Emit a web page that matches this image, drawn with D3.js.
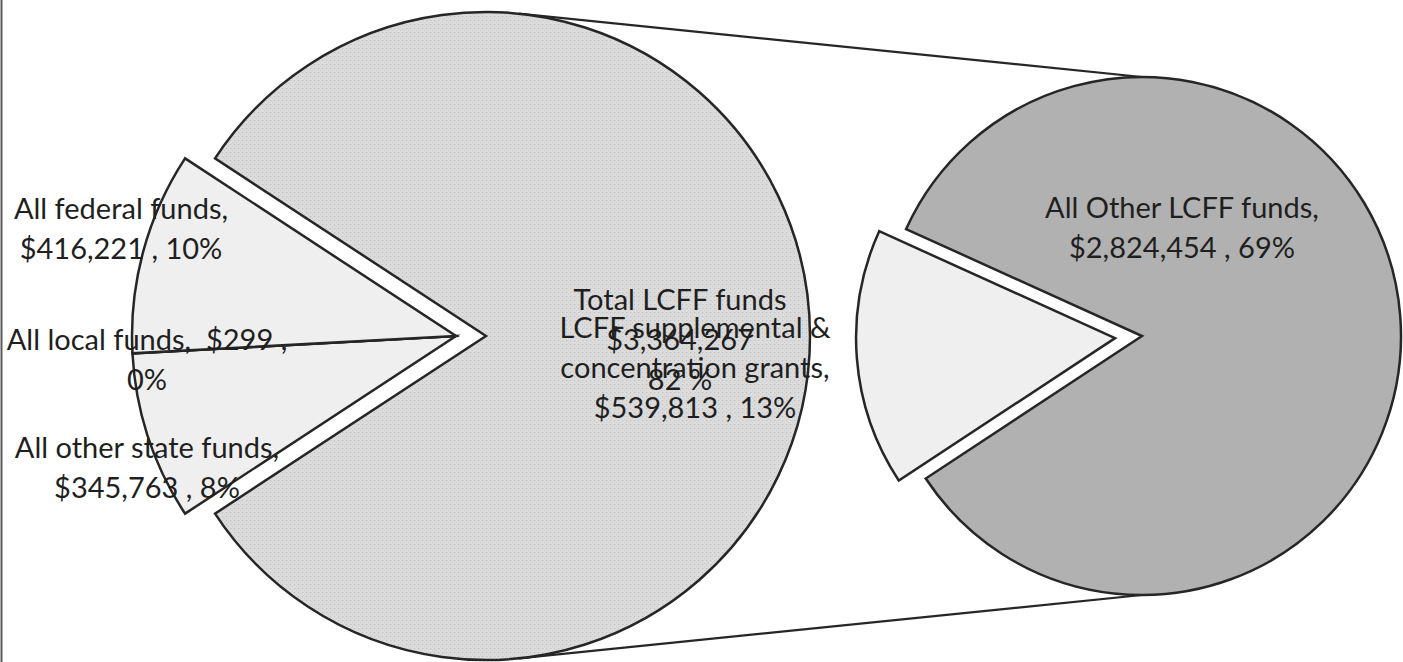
<!DOCTYPE html>
<html>
<head>
<meta charset="utf-8">
<script src="https://cdn.jsdelivr.net/npm/d3@7"></script>
<style>
  html, body { margin: 0; padding: 0; background: #ffffff; }
  svg { display: block; }
  text { font-family: Lato, "Open Sans", sans-serif; fill: #1f1f1f; }
</style>
</head>
<body>
<svg id="chart" width="1403" height="662"></svg>
<script>
// Revenue sources: main pie, with the LCFF total split out into a second pie
const mainCategories = ["All federal funds", "All local funds", "All other state funds", "Total LCFF funds"];
const mainValues = [416221, 299, 345763, 3364267];
const mainPercents = ["10%", "0%", "8%", "82 %"];

const splitCategories = ["LCFF supplemental & concentration grants", "All Other LCFF funds"];
const splitValues = [539813, 2824454];
const splitPercents = ["13%", "69%"];

const money = d3.format("$,");

// Label text, wrapped the way the chart shows it
const mainLabelLines = [
  ["All federal funds,", `${money(mainValues[0])} , ${mainPercents[0]}`],
  [`All local funds,  ${money(mainValues[1])} ,`, mainPercents[1]],
  ["All other state funds,", `${money(mainValues[2])} , ${mainPercents[2]}`],
  [mainCategories[3], money(mainValues[3]), mainPercents[3]]
];
const splitLabelLines = [
  ["LCFF supplemental &", "concentration grants,", `${money(splitValues[0])} , ${splitPercents[0]}`],
  ["All Other LCFF funds,", `${money(splitValues[1])} , ${splitPercents[1]}`]
];

// ---- layout ----
const svg = d3.select("#chart");
const main = { cx: 486, cy: 336, r: 324, explode: 30, center: 270 };
const split = { cx: 1142, cy: 336, r: 259, explode: 27, center: 265.5 };
const rad = Math.PI / 180;
const lineGap = 40;

// Dotted halftone fill for the big LCFF slice
const defs = svg.append("defs");
const pat = defs.append("pattern")
  .attr("id", "dots").attr("patternUnits", "userSpaceOnUse")
  .attr("width", 4).attr("height", 4);
pat.append("rect").attr("width", 4).attr("height", 4).attr("fill", "#dcdcdc");
pat.append("rect").attr("x", 0).attr("y", 0).attr("width", 1.2).attr("height", 1.2).attr("fill", "#c0c0c0");
pat.append("rect").attr("x", 2).attr("y", 2).attr("width", 1).attr("height", 1).attr("fill", "#cecece");

const stroke = "#262626";
const strokeW = 2.5;

// page edge rule on the left
svg.append("line").attr("x1", 1.5).attr("x2", 1.5).attr("y1", 0).attr("y2", 662)
  .attr("stroke", "#5a5a5a").attr("stroke-width", 2);

// ---- main pie ----
// clockwise from lower left: state, local, federal, then the LCFF total
const mainOrder = [2, 1, 0, 3];
const mainData = mainOrder.map(i => ({ i, value: mainValues[i] }));
const mainTotal = d3.sum(mainValues);
const groupSpan = (mainTotal - mainValues[3]) / mainTotal * 2 * Math.PI;
const mainStart = main.center * rad - groupSpan / 2;
const mainArcs = d3.pie().sort(null).value(d => d.value)
  .startAngle(mainStart).endAngle(mainStart + 2 * Math.PI)(mainData);
const mainArc = d3.arc().innerRadius(0).outerRadius(main.r);

// ---- split pie ----
const splitData = splitValues.map((v, i) => ({ i, value: v }));
const splitTotal = d3.sum(splitValues);
const splitSpan = splitValues[0] / splitTotal * 2 * Math.PI;
const splitStart = split.center * rad - splitSpan / 2;
const splitArcs = d3.pie().sort(null).value(d => d.value)
  .startAngle(splitStart).endAngle(splitStart + 2 * Math.PI)(splitData);
const splitArc = d3.arc().innerRadius(0).outerRadius(split.r);

// ---- connector lines: from top/bottom of the split pie, tangent to the main pie ----
function tangentPoint(px, py, c, pickTop) {
  const vx = px - c.cx, vy = py - c.cy;
  const d = Math.hypot(vx, vy);
  const phi = Math.atan2(vy, vx);
  const a = Math.acos(c.r / d);
  const p1 = [c.cx + c.r * Math.cos(phi - a), c.cy + c.r * Math.sin(phi - a)];
  const p2 = [c.cx + c.r * Math.cos(phi + a), c.cy + c.r * Math.sin(phi + a)];
  return pickTop ? (p1[1] < p2[1] ? p1 : p2) : (p1[1] > p2[1] ? p1 : p2);
}
const topP = [split.cx, split.cy - split.r];
const botP = [split.cx, split.cy + split.r];
const topT = tangentPoint(topP[0], topP[1], main, true);
const botT = tangentPoint(botP[0], botP[1], main, false);
svg.append("g").selectAll("line").data([[topT, topP], [botT, botP]]).join("line")
  .attr("x1", d => d[0][0]).attr("y1", d => d[0][1])
  .attr("x2", d => d[1][0]).attr("y2", d => d[1][1])
  .attr("stroke", stroke).attr("stroke-width", 2.2);

// ---- draw main pie ----
const mainG = svg.append("g").attr("transform", `translate(${main.cx},${main.cy})`);
const groupDir = main.center * rad;
mainG.selectAll("path").data(mainArcs).join("path")
  .attr("d", mainArc)
  .attr("transform", d => d.data.i === 3 ? null :
    `translate(${main.explode * Math.sin(groupDir)},${-main.explode * Math.cos(groupDir)})`)
  .attr("fill", d => d.data.i === 3 ? "url(#dots)" : "#efefef")
  .attr("stroke", stroke).attr("stroke-width", strokeW).attr("stroke-linejoin", "miter");

// ---- draw split pie ----
const splitG = svg.append("g").attr("transform", `translate(${split.cx},${split.cy})`);
splitG.selectAll("path").data(splitArcs).join("path")
  .attr("d", splitArc)
  .attr("transform", d => {
    if (d.data.i !== 0) return null;
    const m = (d.startAngle + d.endAngle) / 2;
    return `translate(${split.explode * Math.sin(m)},${-split.explode * Math.cos(m)})`;
  })
  .attr("fill", d => d.data.i === 0 ? "#efefef" : "#b1b1b1")
  .attr("stroke", stroke).attr("stroke-width", strokeW).attr("stroke-linejoin", "miter");

// ---- data labels (first-line middle positions) ----
const labelPos = [
  { lines: mainLabelLines[0], x: 121, y: 209 },
  { lines: mainLabelLines[1], x: 147, y: 340 },
  { lines: mainLabelLines[2], x: 147, y: 448 },
  { lines: mainLabelLines[3], x: 680, y: 300 },
  { lines: splitLabelLines[0], x: 695, y: 328 },
  { lines: splitLabelLines[1], x: 1182, y: 208 }
];
const labels = svg.append("g").attr("font-size", 29);
labelPos.forEach(l => {
  const t = labels.append("text").attr("text-anchor", "middle")
    .attr("x", l.x).attr("y", l.y).attr("dy", "0.35em")
    .style("white-space", "pre");
  l.lines.forEach((s, k) => {
    t.append("tspan").attr("x", l.x).attr("y", l.y + k * lineGap).attr("dy", "0.35em").text(s);
  });
});
</script>
</body>
</html>
